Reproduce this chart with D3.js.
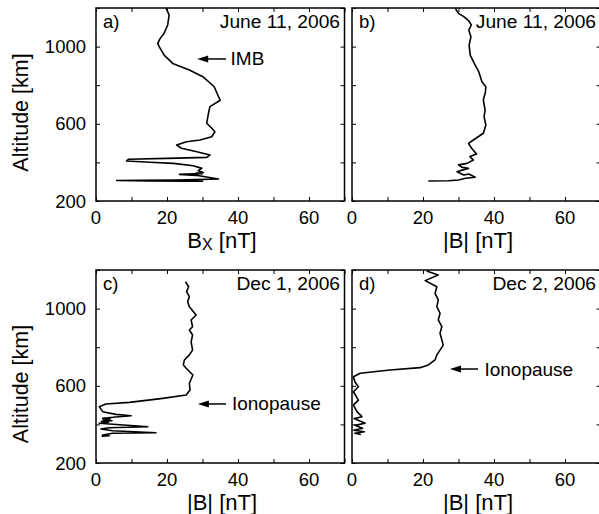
<!DOCTYPE html>
<html><head><meta charset="utf-8">
<script src="https://cdn.jsdelivr.net/npm/d3@7"></script>
<style>body{margin:0;background:#fff}svg{display:block}text{font-family:"Liberation Sans",Arial,Helvetica,sans-serif;fill:#000}</style>
</head><body><svg id="c" width="599" height="514"></svg>
<script>
// ---- data: [field nT, altitude km] ----
const seriesA = [[19.7,1200],[20.6,1164],[20.2,1112],[19.2,1069],[18.0,1040],[17.4,1017],[17.8,1000],[19.2,956],[21.6,913],[26.3,879],[30.1,844],[33.3,792],[34.3,749],[35.0,722],[32.1,689],[31.8,665],[31.6,646],[31.2,603],[32.6,577],[33.5,559],[32.6,533],[29.3,516],[25.5,507],[22.7,490],[24.1,473],[28.4,455],[32.1,438],[31.2,426],[19.9,421],[9.1,416],[8.6,407],[15.2,401],[21.8,395],[27.4,383],[29.8,369],[28.8,357],[30.2,347],[28.2,345],[30.0,342],[23.5,338],[28.2,333],[34.5,314],[28.0,311],[22.5,309],[12.0,307],[5.8,306],[15.0,304],[25.0,303],[30.2,302]];
const seriesB = [[29.1,1198],[30.0,1172],[31.5,1155],[32.9,1133],[33.6,1112],[32.9,1086],[33.5,1051],[33.0,1008],[33.3,956],[34.7,904],[35.7,870],[36.6,818],[37.7,792],[37.6,766],[37.0,723],[37.5,671],[37.2,637],[37.7,594],[37.0,551],[34.2,516],[32.8,499],[33.7,473],[35.1,444],[33.2,430],[34.2,412],[32.4,395],[30.0,387],[31.0,375],[32.8,369],[31.0,360],[29.6,352],[31.5,335],[32.9,340],[34.7,323],[32.0,318],[30.0,309],[27.2,305],[21.5,304]];
const seriesC = [[25.2,1139],[26.1,1113],[25.5,1088],[26.3,1062],[25.8,1036],[26.3,1010],[28.2,967],[26.8,941],[27.2,906],[26.3,889],[27.2,863],[26.8,828],[27.2,785],[26.3,760],[24.9,734],[24.6,708],[25.4,691],[27.3,656],[26.3,613],[26.5,578],[25.4,552],[18.8,535],[9.4,514],[2.8,506],[0.9,492],[1.9,466],[5.6,452],[9.9,445],[5.6,438],[1.9,431],[4.0,428],[2.0,423],[4.5,419],[1.5,415],[3.5,411],[0.9,406],[14.6,388],[3.7,383],[1.4,376],[4.7,367],[16.9,357],[4.7,354],[1.9,345],[3.7,341],[1.6,339]];
const seriesD = [[21.0,1195],[24.3,1174],[20.6,1145],[23.9,1113],[23.4,1079],[24.3,1045],[23.9,1010],[24.8,976],[24.3,941],[25.3,906],[24.8,872],[25.7,811],[24.8,785],[23.9,760],[23.4,734],[21.5,708],[19.2,694],[10.7,682],[2.3,665],[0.4,647],[0.8,621],[1.8,595],[0.4,569],[1.8,526],[0.4,500],[1.4,466],[2.8,440],[0.6,430],[3.7,406],[0.8,395],[3.0,380],[0.5,370],[3.5,362],[0.8,354],[2.5,348]];
const panelLetters = ["a)","b)","c)","d)"];
const panelDates = ["June 11, 2006","June 11, 2006","Dec 1, 2006","Dec 2, 2006"];
const xTitles = [["B","X"," [nT]"],["|B| [nT]"],["|B| [nT]"],["|B| [nT]"]];
const yTitle = "Altitude [km]";
const xTickLabels = [0,20,40,60];
const yTickLabels = [200,600,1000];
const xMinorTicks = [0,10,20,30,40,50,60,70];
const yMinorTicks = [200,400,600,800,1000,1200];
// annotations: [x from, x to, altitude, label x, label]
const annotations = [[28.5,36.6,936,37.9,"IMB"],null,[28.7,36.6,506,38.3,"Ionopause"],[27.6,35.5,687,37.3,"Ionopause"]];
const seriesList = [seriesA, seriesB, seriesC, seriesD];

const svg = d3.select("#c");
svg.append("rect").attr("width",599).attr("height",514).attr("fill","#fff");

const boxes = [
  {l:96,t:8,b:201,yl:true,yc:112.5},
  {l:352,t:8,b:201,yl:false},
  {l:96,t:270,b:463,yl:true,yc:384},
  {l:352,t:270,b:463,yl:false}
];
const W = 248.5;

boxes.forEach((bx,i)=>{
  const x = d3.scaleLinear().domain([0,70]).range([bx.l,bx.l+W]);
  const y = d3.scaleLinear().domain([200,1200]).range([bx.b,bx.t]);
  const g = svg.append("g");
  const tl = 4;
  const axB = d3.axisTop(x).tickValues(xMinorTicks).tickSize(tl).tickFormat("");
  const axT = d3.axisBottom(x).tickValues(xMinorTicks).tickSize(tl).tickFormat("");
  const axL = d3.axisRight(y).tickValues(yMinorTicks).tickSize(tl).tickFormat("");
  const axR = d3.axisLeft(y).tickValues(yMinorTicks).tickSize(tl).tickFormat("");
  [[axB,`translate(0,${bx.b})`],[axT,`translate(0,${bx.t})`],[axL,`translate(${bx.l},0)`],[axR,`translate(${bx.l+W},0)`]].forEach(([a,tr])=>{
    const ga = g.append("g").attr("transform",tr).call(a);
    ga.select(".domain").remove();
    ga.selectAll("line").attr("stroke","#000").attr("stroke-width",1);
  });
  const line = d3.line().x(d=>x(d[0])).y(d=>y(d[1])).curve(d3.curveLinear);
  g.append("path").datum(seriesList[i]).attr("d",line).attr("fill","none")
    .attr("stroke","#000").attr("stroke-width",1.6).attr("stroke-linejoin","round");
  g.append("rect").attr("x",bx.l).attr("y",bx.t).attr("width",W).attr("height",bx.b-bx.t)
    .attr("fill","none").attr("stroke","#000").attr("stroke-width",1.5);
  xTickLabels.forEach(v=>{
    g.append("text").attr("x",x(v)).attr("y",bx.b+23).attr("text-anchor","middle")
      .attr("font-size",18.5).text(v);
  });
  if(bx.yl){
    yTickLabels.forEach(v=>{
      g.append("text").attr("x",bx.l-10).attr("y",y(v)+6.5).attr("text-anchor","end")
        .attr("font-size",18.5).text(v);
    });
    g.append("text").attr("transform",`translate(28,${bx.yc}) rotate(-90)`)
      .attr("text-anchor","middle").attr("font-size",21.5).text(yTitle);
  }
  const tt = g.append("text").attr("x",bx.l+126).attr("y",bx.b+47).attr("text-anchor","middle").attr("font-size",22);
  const parts = xTitles[i];
  if(parts.length===3){
    tt.append("tspan").text(parts[0]);
    tt.append("tspan").attr("font-size",16).attr("dy",2).text(parts[1]);
    tt.append("tspan").attr("dy",-2).text(parts[2]);
  } else tt.text(parts[0]);
  g.append("text").attr("x",bx.l+7).attr("y",bx.t+20).attr("font-size",18.5).text(panelLetters[i]);
  g.append("text").attr("x",bx.l+244).attr("y",bx.t+20).attr("text-anchor","end").attr("font-size",19.2).text(panelDates[i]);
  const an = annotations[i];
  if(an){
    const ay = y(an[2]);
    const x0 = x(an[0]), x1 = x(an[1]);
    g.append("line").attr("x1",x0+9).attr("x2",x1).attr("y1",ay).attr("y2",ay).attr("stroke","#000").attr("stroke-width",1.5);
    g.append("path").attr("d",`M${x0},${ay}L${x0+11},${ay-3.5}L${x0+11},${ay+3.5}Z`).attr("fill","#000");
    g.append("text").attr("x",x(an[3])).attr("y",ay+6.5).attr("font-size",19).text(an[4]);
  }
});
</script></body></html>
